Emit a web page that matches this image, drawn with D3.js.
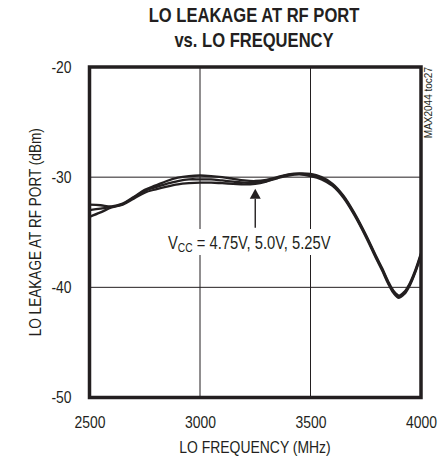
<!DOCTYPE html>
<html>
<head>
<meta charset="utf-8">
<script src="https://cdn.jsdelivr.net/npm/d3@7"></script>
<style>
  html, body { margin: 0; padding: 0; background: #fff; }
  svg { display: block; }
  text { fill: #231f20; }
</style>
</head>
<body>
<svg id="chart" width="448" height="461"></svg>
<script>
// LO leakage at the RF port, in dBm, versus LO frequency in MHz,
// one curve per supply voltage.
const freqs = [2500, 2550, 2600, 2650, 2700, 2750, 2800, 2850, 2900, 2950,
               3000, 3050, 3100, 3150, 3200, 3250, 3300, 3350, 3400, 3450,
               3500, 3550, 3600, 3650, 3700, 3750, 3800, 3825, 3850, 3875,
               3900, 3925, 3950, 3975, 4000];

const leakVcc475 = [-32.5, -32.55, -32.65, -32.4, -31.8, -31.15, -30.75, -30.35, -30.05, -29.9,
                    -29.85, -29.9, -30.0, -30.15, -30.3, -30.35, -30.25, -30.0, -29.75, -29.65,
                    -29.7, -30.0, -30.6, -31.7, -33.3, -35.2, -37.3, -38.3, -39.4, -40.3,
                    -40.75, -40.4, -39.6, -38.4, -36.9];
const leakVcc500 = [-33.0, -32.85, -32.7, -32.45, -31.85, -31.25, -30.9, -30.6, -30.35, -30.2,
                    -30.2, -30.2, -30.3, -30.4, -30.5, -30.5, -30.35, -30.05, -29.8, -29.7,
                    -29.8, -30.1, -30.7, -31.8, -33.4, -35.3, -37.4, -38.4, -39.5, -40.4,
                    -40.85, -40.5, -39.7, -38.5, -37.0];
const leakVcc525 = [-33.6, -33.2, -32.75, -32.5, -31.95, -31.4, -31.1, -30.85, -30.65, -30.55,
                    -30.5, -30.5, -30.55, -30.6, -30.65, -30.6, -30.4, -30.1, -29.85, -29.75,
                    -29.9, -30.2, -30.8, -31.9, -33.5, -35.4, -37.5, -38.5, -39.6, -40.5,
                    -40.95, -40.6, -39.8, -38.6, -37.1];

const xTicks = [2500, 3000, 3500, 4000];
const yTicks = [-20, -30, -40, -50];

const titleLines = ["LO LEAKAGE AT RF PORT", "vs. LO FREQUENCY"];
const xTitle = "LO FREQUENCY (MHz)";
const yTitle = "LO LEAKAGE AT RF PORT (dBm)";
const partCode = "MAX2044 toc27";

const ink = "#231f20";
const sans = "'Liberation Sans', Arial, Helvetica, sans-serif";
const squeeze = 0.82;   // horizontal compression for the condensed lettering

const svg = d3.select("#chart");

const x = d3.scaleLinear().domain([2500, 4000]).range([89.5, 421]);
const y = d3.scaleLinear().domain([-50, -20]).range([397.5, 67]);

// Condensed text: placed at (px, py), optionally rotated, squeezed along its run
function condText(parent, px, py, str, opts = {}) {
  const sx = opts.squeeze || squeeze;
  const rot = opts.rotate ? ` rotate(${opts.rotate})` : "";
  return parent.append("text")
    .attr("transform", `translate(${px},${py})${rot} scale(${sx},1)`)
    .attr("text-anchor", opts.anchor || "start")
    .attr("font-family", sans)
    .attr("font-size", opts.size || 17)
    .attr("font-weight", opts.weight || "normal")
    .text(str);
}

// Grid lines (interior only)
const grid = svg.append("g");
grid.selectAll("line.v")
  .data(xTicks.slice(1, -1))
  .join("line")
  .attr("x1", d => x(d)).attr("x2", d => x(d))
  .attr("y1", y(-20)).attr("y2", y(-50))
  .attr("stroke", ink).attr("stroke-width", 1);
grid.selectAll("line.h")
  .data(yTicks.slice(1, -1))
  .join("line")
  .attr("x1", x(2500)).attr("x2", x(4000))
  .attr("y1", d => y(d)).attr("y2", d => y(d))
  .attr("stroke", ink).attr("stroke-width", 1);

// Annotation label, with a white patch that breaks the grid behind it
const labelX = 168, labelY = 249;
svg.append("rect")
  .attr("x", labelX - 3).attr("y", labelY - 20)
  .attr("width", 171).attr("height", 26)
  .attr("fill", "#fff");
const note = condText(svg, labelX, labelY, null, { size: 18 });
note.append("tspan").text("V");
note.append("tspan").attr("font-size", 12.5).attr("dy", 3).text("CC");
note.append("tspan").attr("dy", -3).text(" = 4.75V, 5.0V, 5.25V");

// Arrow pointing at the curves
const arrowX = 3250, arrowTip = -31.05, arrowBase = -34.6, headBase = -31.95;
svg.append("line")
  .attr("x1", x(arrowX)).attr("x2", x(arrowX))
  .attr("y1", y(arrowBase)).attr("y2", y(headBase))
  .attr("stroke", ink).attr("stroke-width", 1.4);
svg.append("path")
  .attr("d", `M${x(arrowX)},${y(arrowTip)} L${x(arrowX) - 5.5},${y(headBase)} L${x(arrowX) + 5.5},${y(headBase)} Z`)
  .attr("fill", ink);

// Curves
const series = [leakVcc475, leakVcc500, leakVcc525];
const line = d3.line()
  .x((d, i) => x(freqs[i]))
  .y(d => y(d))
  .curve(d3.curveCatmullRom.alpha(0.5));
svg.append("g")
  .selectAll("path")
  .data(series)
  .join("path")
  .attr("d", d => line(d))
  .attr("fill", "none")
  .attr("stroke", ink)
  .attr("stroke-width", 2.3)
  .attr("stroke-linejoin", "round");

// Plot frame
svg.append("rect")
  .attr("x", x(2500)).attr("y", y(-20))
  .attr("width", x(4000) - x(2500)).attr("height", y(-50) - y(-20))
  .attr("fill", "none").attr("stroke", ink).attr("stroke-width", 3.5);

// Axes (labels only; the grid carries the ticks)
const xAxis = svg.append("g")
  .attr("transform", `translate(0,${y(-50)})`)
  .call(d3.axisBottom(x).tickValues(xTicks).tickSize(0).tickPadding(18).tickFormat(d => String(d)));
xAxis.select(".domain").remove();
xAxis.selectAll("text")
  .attr("font-family", sans).attr("font-size", 17).attr("fill", ink)
  .attr("transform", `scale(${squeeze},1)`);

const yPad = 18;
const yAxis = svg.append("g")
  .attr("transform", `translate(${x(2500)},0)`)
  .call(d3.axisLeft(y).tickValues(yTicks).tickSize(0).tickPadding(yPad).tickFormat(d => String(d)));
yAxis.select(".domain").remove();
yAxis.selectAll("text")
  .attr("font-family", sans).attr("font-size", 17).attr("fill", ink)
  .attr("x", -yPad / squeeze)
  .attr("transform", `scale(${squeeze},1)`);

// Titles
titleLines.forEach((t, i) => {
  condText(svg, 254, 22 + i * 25, t, { anchor: "middle", size: 19.5, weight: "bold", squeeze: 0.85 });
});

condText(svg, 255, 453, xTitle, { anchor: "middle", size: 17 });

condText(svg, 41, (y(-20) + y(-50)) / 2, yTitle, { anchor: "middle", size: 17, rotate: -90, squeeze: 0.8 });

svg.append("text")
  .attr("transform", `translate(432,67) rotate(-90)`)
  .attr("text-anchor", "end")
  .attr("font-family", sans).attr("font-size", 10)
  .text(partCode);
</script>
</body>
</html>
